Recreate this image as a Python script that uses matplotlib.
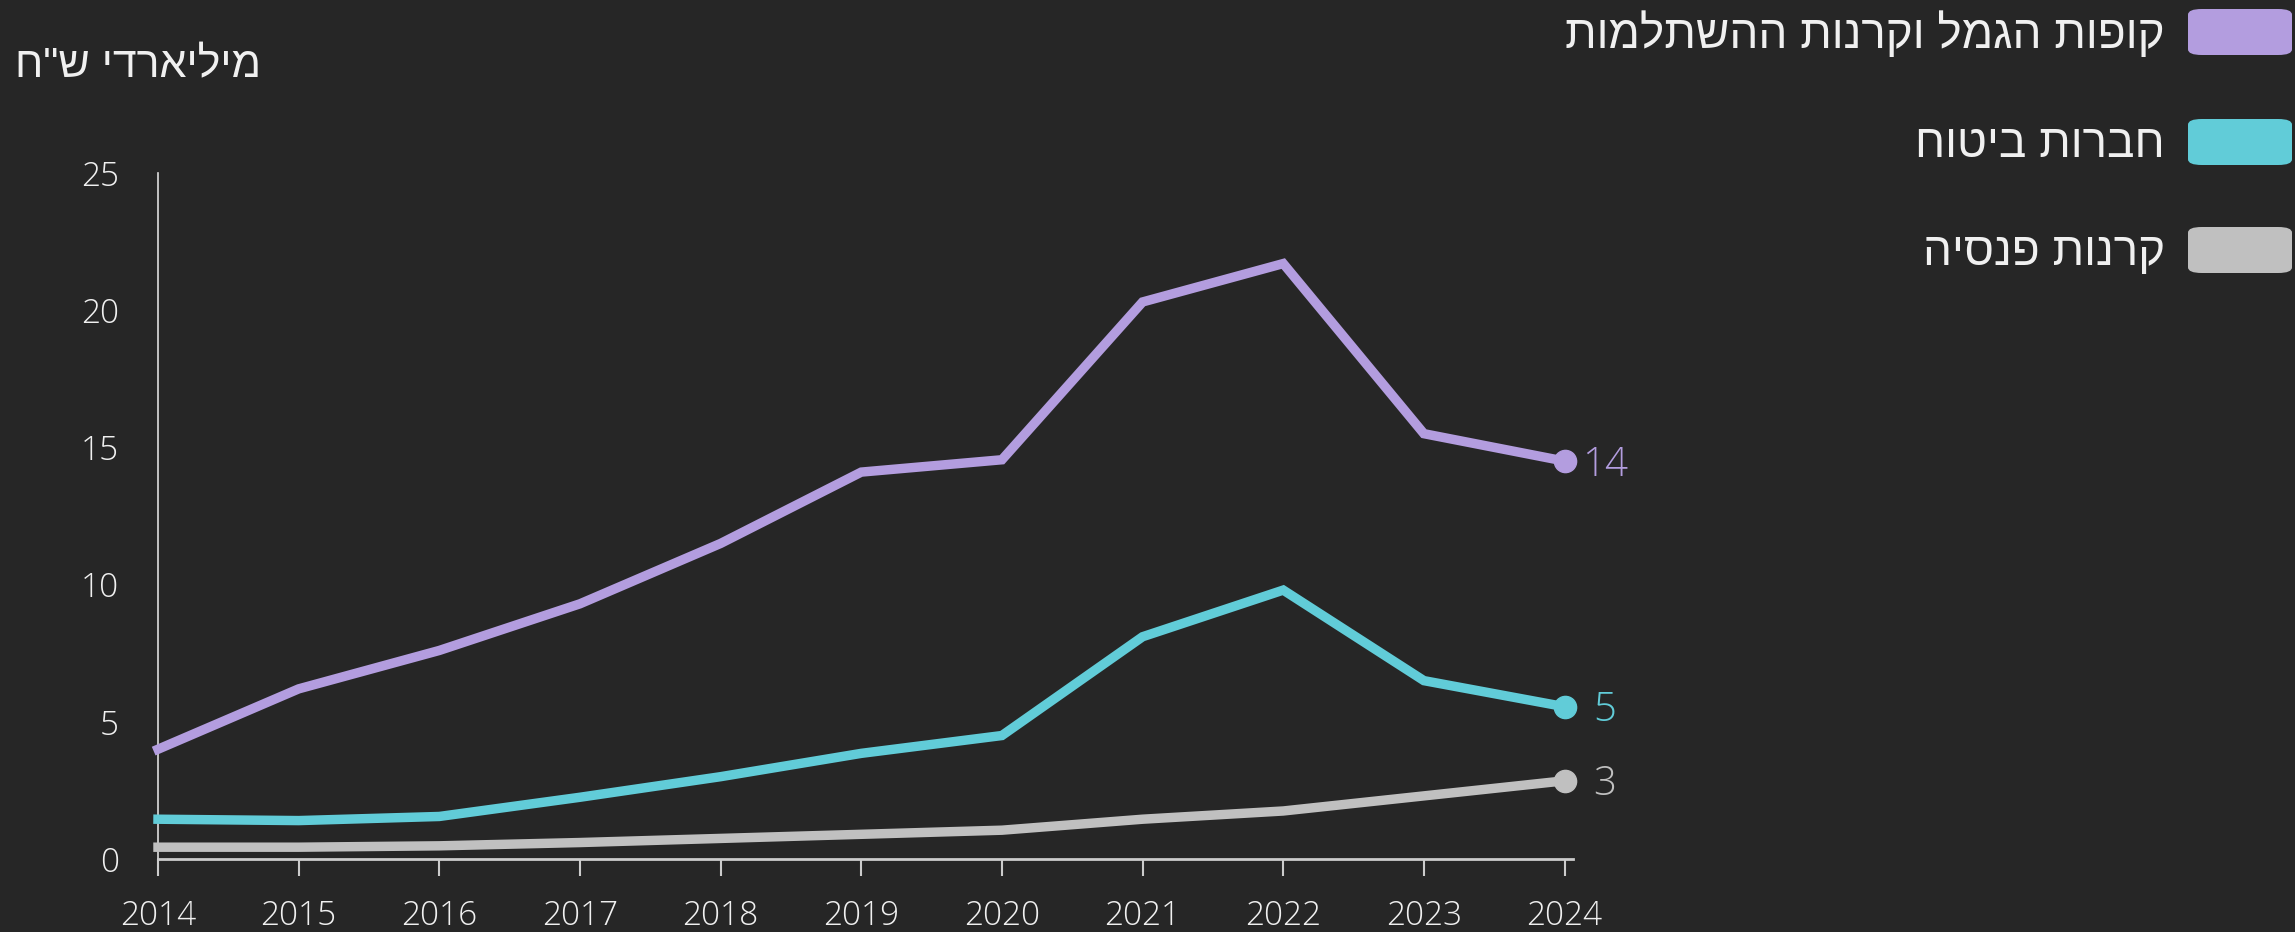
import matplotlib
matplotlib.use("Agg")
import matplotlib.pyplot as plt
from matplotlib.patches import FancyBboxPatch

plt.rcParams['font.family'] = ['Open Sans', 'DejaVu Sans']
HEB = ['Liberation Sans', 'DejaVu Sans']

years = [2014, 2015, 2016, 2017, 2018, 2019, 2020, 2021, 2022, 2023, 2024]
gemel = [4.0, 6.2, 7.6, 9.3, 11.5, 14.1, 14.55, 20.3, 21.7, 15.5, 14.5]
bituach = [1.45, 1.4, 1.55, 2.25, 3.0, 3.85, 4.5, 8.1, 9.8, 6.5, 5.55]
pensia = [0.43, 0.43, 0.48, 0.6, 0.75, 0.9, 1.05, 1.45, 1.75, 2.3, 2.85]
series_names = ["קופות הגמל וקרנות ההשתלמות", "חברות ביטוח", "קרנות פנסיה"]
end_labels = ["14", "5", "3"]
colors = ["#b39ddf", "#61ccd8", "#c0c0c0"]
y_ticks = [0, 5, 10, 15, 20, 25]
y_title = 'מיליארדי ש"ח'

def rtl(s):
    return s[::-1]

BG = "#262626"
W, H = 2295, 932
fig = plt.figure(figsize=(W / 100, H / 100), dpi=100, facecolor=BG)
ax = fig.add_axes([158 / W, 1 - 859 / H, (1573 - 158) / W, (859 - 173) / H])
ax.set_facecolor(BG)

data = [gemel, bituach, pensia]
for vals, c, lab in zip(data, colors, end_labels):
    ax.plot(years, vals, color=c, lw=6.8, solid_joinstyle='miter', clip_on=False, zorder=3)
    ax.plot([years[-1]], [vals[-1]], 'o', color=c, ms=16, clip_on=False, zorder=4)
    ax.annotate(lab, (years[-1], vals[-1]), xytext=(29, -3), textcoords='offset points',
                color=c, fontsize=29, va='center', ha='center', fontweight='light')

ax.set_xlim(2014, 2024.06)
ax.set_ylim(0, 25)
ax.set_xticks(years)
ax.set_xticklabels([str(y) for y in years])
ax.set_yticks(y_ticks)
ax.set_yticklabels([str(v) for v in y_ticks])
for s in ['top', 'right']:
    ax.spines[s].set_visible(False)
ax.spines['left'].set_color('#dddddd')
ax.spines['left'].set_linewidth(1.2)
ax.spines['bottom'].set_color('#cccccc')
ax.spines['bottom'].set_linewidth(2)
ax.tick_params(axis='x', colors='#cccccc', length=12, width=1.5, pad=17, labelsize=24, labelcolor='#f0f0f0')
ax.tick_params(axis='y', length=0, pad=28, labelsize=24, labelcolor='#f0f0f0')
for t in ax.get_xticklabels() + ax.get_yticklabels():
    t.set_fontweight('light')

fig.text(15 / W, 1 - 66 / H, rtl(y_title), color='#f0f0f0', fontsize=31,
         ha='left', va='center', family=HEB)

rows_y = [32, 142, 250]
for name, c, yy in zip(series_names, colors, rows_y):
    box = FancyBboxPatch((2188 / W, 1 - (yy + 23) / H), 104 / W, 46 / H,
                         boxstyle="round,pad=0,rounding_size=0.006",
                         transform=fig.transFigure, facecolor=c, edgecolor='none')
    fig.patches.append(box)
    fig.text(2165 / W, 1 - (yy + 3) / H, rtl(name), color='#f0f0f0', fontsize=33,
             ha='right', va='center', family=HEB)

fig.savefig("out.png", dpi=100, facecolor=BG)
